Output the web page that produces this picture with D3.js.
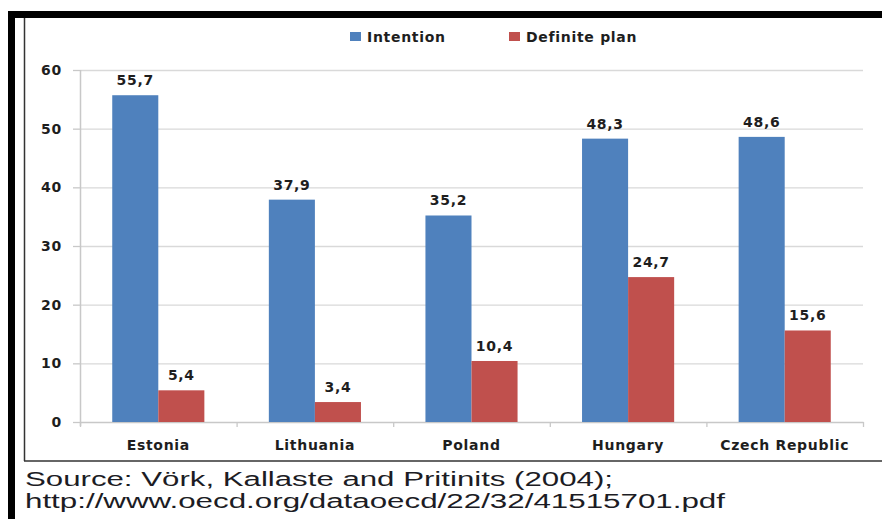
<!DOCTYPE html>
<html>
<head>
<meta charset="utf-8">
<script src="https://cdn.jsdelivr.net/npm/d3@7"></script>
<style>
  html, body { margin: 0; padding: 0; background: #fff; }
  svg { display: block; }
</style>
</head>
<body>
<svg id="chart" width="882" height="519"></svg>
<script>
// Entrepreneurial intentions and definite plans by country (%)
const countries = ["Estonia", "Lithuania", "Poland", "Hungary", "Czech Republic"];
const intention = [55.7, 37.9, 35.2, 48.3, 48.6];
const definitePlan = [5.4, 3.4, 10.4, 24.7, 15.6];
const seriesNames = ["Intention", "Definite plan"];
const seriesColors = ["#4f81bd", "#c0504d"];
const yTicks = [0, 10, 20, 30, 40, 50, 60];
const sourceLines = [
  "Source: Vörk, Kallaste and Pritinits (2004);",
  "http://www.oecd.org/dataoecd/22/32/41515701.pdf"
];

const svg = d3.select("#chart");
const chartFont = "'DejaVu Sans', Verdana, sans-serif";
const textColor = "#1e1e1e";
const fontSize = 14;
const spacing = "0.7px";

const margin = { left: 80, right: 863, top: 70, bottom: 422 };

const x = d3.scaleBand()
  .domain(countries)
  .range([margin.left, margin.right])
  .paddingInner(0)
  .paddingOuter(0);

// Two bars per category with a 70% gap on either side
const inner = d3.scaleBand()
  .domain(seriesNames)
  .range([0, x.bandwidth()])
  .paddingInner(0)
  .paddingOuter(0.7);

const y = d3.scaleLinear().domain([0, 60]).range([margin.bottom, margin.top]);

function styleText(sel) {
  sel.attr("font-family", chartFont)
    .attr("font-weight", "bold")
    .attr("font-size", fontSize)
    .attr("letter-spacing", spacing)
    .attr("fill", textColor);
}

// Frame around the figure
svg.append("rect").attr("x", 8).attr("y", 11).attr("width", 882).attr("height", 7).attr("fill", "#000");
svg.append("rect").attr("x", 8).attr("y", 11).attr("width", 7).attr("height", 519).attr("fill", "#000");
svg.append("line").attr("x1", 24.5).attr("x2", 24.5).attr("y1", 18).attr("y2", 461)
  .attr("stroke", "#333").attr("stroke-width", 1.5);
svg.append("line").attr("x1", 24).attr("x2", 882).attr("y1", 461).attr("y2", 461)
  .attr("stroke", "#333").attr("stroke-width", 1.5);

// Gridlines
svg.append("g")
  .selectAll("line")
  .data(yTicks.filter(d => d > 0))
  .join("line")
  .attr("x1", margin.left).attr("x2", margin.right)
  .attr("y1", d => y(d) + 0.5).attr("y2", d => y(d) + 0.5)
  .attr("stroke", "#d9d9d9").attr("stroke-width", 1.3);

// Y axis
const yAxis = svg.append("g")
  .attr("transform", `translate(${margin.left},0)`)
  .call(d3.axisLeft(y).tickValues(yTicks).tickSize(7).tickPadding(11).tickFormat(d3.format("d")));
yAxis.select(".domain").attr("stroke", "#c8c8c8").attr("stroke-width", 1.5).attr("d", `M0.5,${margin.top}V${margin.bottom + 4}`);
yAxis.selectAll(".tick line").attr("stroke", "#c8c8c8").attr("stroke-width", 1.3);
yAxis.selectAll(".tick text").call(styleText);

// X axis
const xAxis = svg.append("g")
  .attr("transform", `translate(0,${margin.bottom})`)
  .call(d3.axisBottom(x).tickSize(0).tickPadding(18));
xAxis.select(".domain").attr("stroke", "#c8c8c8").attr("stroke-width", 1.5);
xAxis.selectAll(".tick text").call(styleText);
// Category boundary ticks
const bounds = countries.map(c => x(c)).concat([margin.right]);
xAxis.append("g").selectAll("line")
  .data(bounds)
  .join("line")
  .attr("x1", d => d + 0.5).attr("x2", d => d + 0.5)
  .attr("y1", 0).attr("y2", 5)
  .attr("stroke", "#c8c8c8").attr("stroke-width", 1.3);

// Bars
const rows = countries.map((c, i) => ({ country: c, values: [intention[i], definitePlan[i]] }));
const groups = svg.append("g").selectAll("g")
  .data(rows)
  .join("g")
  .attr("transform", d => `translate(${x(d.country)},0)`);

groups.selectAll("rect")
  .data(d => d.values.map((v, k) => ({ key: seriesNames[k], value: v, k })))
  .join("rect")
  .attr("x", d => inner(d.key))
  .attr("width", inner.bandwidth())
  .attr("y", d => y(d.value))
  .attr("height", d => y(0) - y(d.value))
  .attr("fill", d => seriesColors[d.k]);

// Value labels
const fmt = v => d3.format(".1f")(v).replace(".", ",");
groups.selectAll("text")
  .data(d => d.values.map((v, k) => ({ key: seriesNames[k], value: v })))
  .join("text")
  .attr("x", d => inner(d.key) + inner.bandwidth() / 2)
  .attr("y", d => y(d.value) - 10)
  .attr("text-anchor", "middle")
  .call(styleText)
  .text(d => fmt(d.value));

// Legend
const legendX = [350, 509];
const legend = svg.append("g").selectAll("g")
  .data(seriesNames)
  .join("g")
  .attr("transform", (d, i) => `translate(${legendX[i]},32)`);
legend.append("rect").attr("width", 11).attr("height", 9).attr("fill", (d, i) => seriesColors[i]);
legend.append("text")
  .attr("x", 17).attr("y", 9.5)
  .call(styleText)
  .text(d => d);

// Source note
svg.append("g").selectAll("text")
  .data(sourceLines)
  .join("text")
  .attr("x", 25)
  .attr("y", (d, i) => 486 + i * 22)
  .attr("font-family", "'Liberation Sans', Arial, sans-serif")
  .attr("font-size", 20)
  .attr("fill", "#1c1c24")
  .attr("textLength", (d, i) => [588, 700][i])
  .attr("lengthAdjust", "spacingAndGlyphs")
  .text(d => d);
</script>
</body>
</html>
